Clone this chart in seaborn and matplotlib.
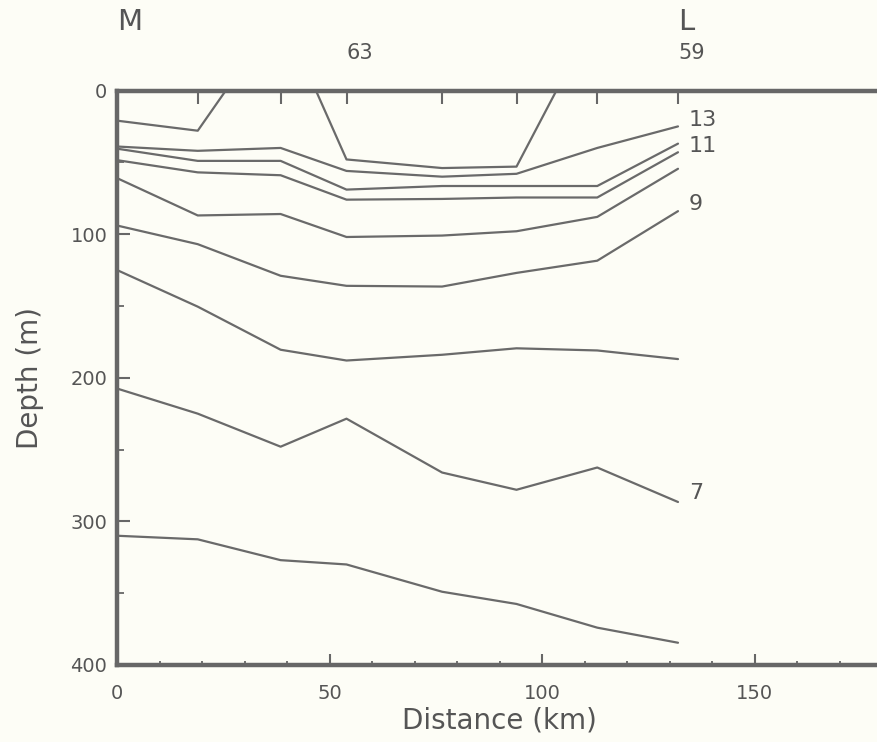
import pandas as pd
import matplotlib
matplotlib.use("Agg")
import matplotlib.pyplot as plt
import matplotlib.transforms as mtransforms
from matplotlib.ticker import MultipleLocator
import seaborn as sns

# station positions along the section (km)
stations = [0, 19, 38.5, 54, 76.5, 94, 113, 132]

# isotherm depths (m) at each station
iso_13 = [39, 42, 40, 56, 60, 58, 40, 25]
iso_12 = [40.5, 49, 49, 69, 66.5, 66.5, 66.5, 37]
iso_11 = [48.5, 57, 59, 76, 75.5, 74.5, 74.5, 43]
iso_10 = [61, 87, 86, 102, 101, 98, 88, 54.5]
iso_9 = [94, 107, 129, 136, 136.5, 127, 118.5, 84]
iso_8 = [125, 150.5, 180.5, 188, 184, 179.5, 181, 187]
iso_7 = [207.5, 225, 248, 228.5, 266, 278, 262.5, 286.5]
iso_6 = [310, 312.5, 327, 330, 349, 357.5, 374, 384.5]

# warmest isotherm outcrops at the surface -> two pieces
iso_14_w_x = [0, 19, 25.6]
iso_14_w_d = [21, 28, 0]
iso_14_e_x = [46.8, 54, 76.5, 94, 103.4]
iso_14_e_d = [0, 48, 54, 53, 0]

# labels at the eastern end
label_text = ['13', '11', '9', '7']
label_depth = [20.5, 38.5, 79, 280]

top_stations = ['63', '59']
top_station_x = [54, 132]
end_names = ['M', 'L']
end_x = [0, 132]

rows = []
for name, vals in [('13', iso_13), ('12', iso_12), ('11', iso_11), ('10', iso_10),
                   ('9', iso_9), ('8', iso_8), ('7', iso_7), ('6', iso_6)]:
    for x, d in zip(stations, vals):
        rows.append({'line': name, 'dist': x, 'depth': d})
for x, d in zip(iso_14_w_x, iso_14_w_d):
    rows.append({'line': '14w', 'dist': x, 'depth': d})
for x, d in zip(iso_14_e_x, iso_14_e_d):
    rows.append({'line': '14e', 'dist': x, 'depth': d})
df = pd.DataFrame(rows)

sns.set_style("white")
plt.rcParams['font.family'] = ['DejaVu Sans']
txt = '#555555'
lc = '#6a6a6a'
bg = '#fdfdf6'

fig = plt.figure(figsize=(8.77, 7.42), dpi=100, facecolor=bg)
ax = fig.add_axes([117 / 877, 1 - 665 / 742, 765 / 877, (665 - 90.5) / 742])
ax.set_facecolor(bg)

sns.lineplot(data=df, x='dist', y='depth', units='line', estimator=None, sort=False,
             color=lc, lw=1.6, ax=ax, legend=False)

ax.set_xlim(0, 180)
ax.set_ylim(400, 0)
ax.set_yticks([0, 100, 200, 300, 400])
ax.yaxis.set_minor_locator(MultipleLocator(50))
ax.set_xticks([0, 50, 100, 150])
ax.xaxis.set_minor_locator(MultipleLocator(10))

for s in ['left', 'bottom', 'top']:
    ax.spines[s].set_linewidth(3.2)
    ax.spines[s].set_color('#676767')
ax.spines['right'].set_visible(False)

ax.tick_params(axis='y', which='major', direction='in', length=9, width=1.5,
               color='#676767', labelsize=14, labelcolor=txt, pad=7, left=True)
ax.tick_params(axis='y', which='minor', direction='in', length=5, width=1.3,
               color='#676767', left=True)
ax.tick_params(axis='x', which='major', direction='in', length=8, width=1.5,
               color='#676767', labelsize=14, labelcolor=txt, pad=14, bottom=True)
ax.tick_params(axis='x', which='minor', direction='in', length=3, width=1.3,
               color='#676767', bottom=True)

ax.set_xlabel('Distance (km)', fontsize=20, color=txt, labelpad=2)
ax.set_ylabel('Depth (m)', fontsize=20, color=txt, labelpad=19)

# station ticks on top
top = ax.secondary_xaxis('top')
top.set_xticks(stations)
top.tick_params(direction='in', length=10, width=1.5, color='#676767', labeltop=False)
top.spines['top'].set_visible(False)

trans = mtransforms.blended_transform_factory(ax.transData, ax.transAxes)
for name, x in zip(end_names, end_x):
    ax.text(x, 1.119, name, transform=trans, ha='left', va='center',
            fontsize=21, color=txt)
for name, x in zip(top_stations, top_station_x):
    ax.text(x, 1.065, name, transform=trans, ha='left', va='center',
            fontsize=15, color=txt)

for t, d in zip(label_text, label_depth):
    ax.text(134.6, d, t, ha='left', va='center', fontsize=16, color=txt)

fig.savefig('out.png', dpi=100, facecolor=bg)
